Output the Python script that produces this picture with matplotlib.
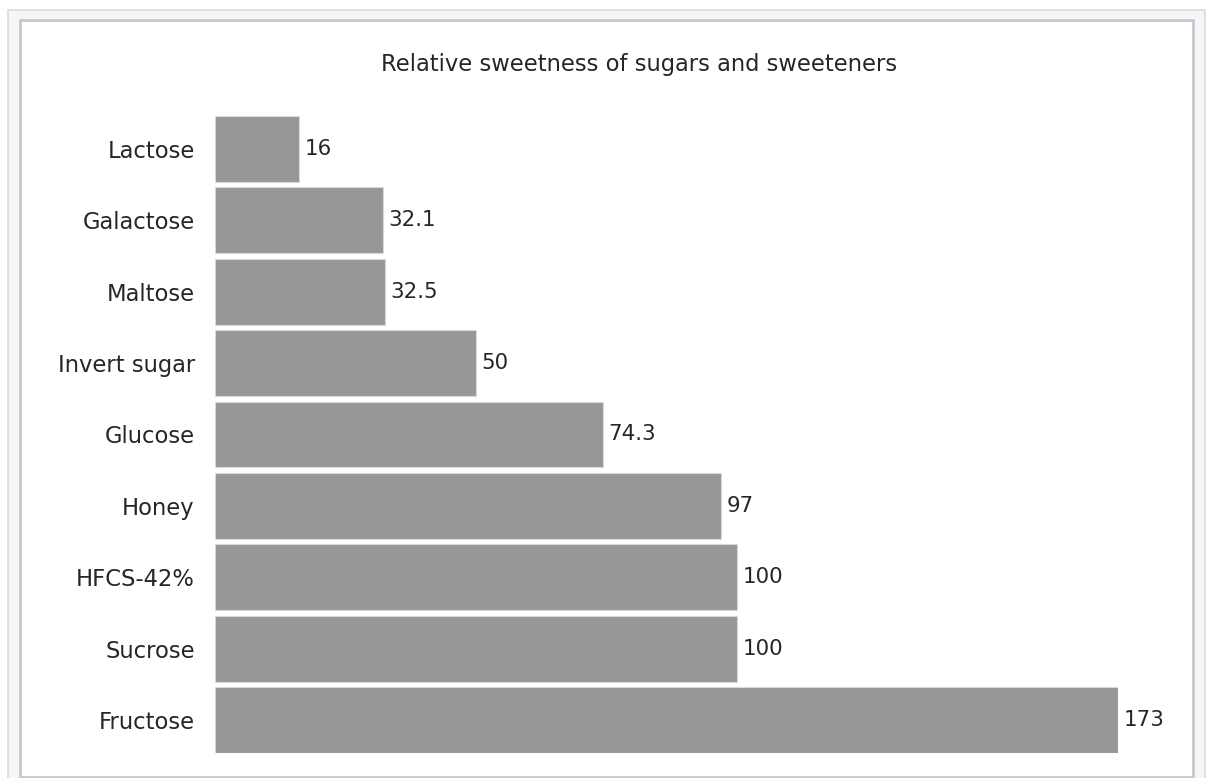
import matplotlib.pyplot as plt
from matplotlib.patches import Rectangle

sugars = ["Lactose", "Galactose", "Maltose", "Invert sugar", "Glucose",
          "Honey", "HFCS-42%", "Sucrose", "Fructose"]
sweetness = [16, 32.1, 32.5, 50, 74.3, 97, 100, 100, 173]
value_labels = ["16", "32.1", "32.5", "50", "74.3", "97", "100", "100", "173"]

W, H = 1209, 778
fig = plt.figure(figsize=(W / 100, H / 100), dpi=100)

# frame around the picture
fig.patches.append(Rectangle((8 / W, -0.05), 1197 / W, (H - 10) / H + 0.05,
                             transform=fig.transFigure, facecolor="#f4f6f8",
                             edgecolor="#d9dcdf", linewidth=1.2, zorder=-2))
fig.patches.append(Rectangle((20 / W, 1 / H), 1173 / W, (H - 21) / H,
                             transform=fig.transFigure, facecolor="white",
                             edgecolor="#c5c9cd", linewidth=2, zorder=-1))

ax = fig.add_axes([215 / W, 25 / H, (1118 - 215) / W, (753 - 116) / H])
ax.set_zorder(2)
ax.patch.set_alpha(0)

ypos = list(range(len(sugars)))
bars = ax.barh(ypos, sweetness, height=0.92, color="#979797",
               edgecolor="#d8d8d8", linewidth=0.8)
ax.set_xlim(0, 173)
ax.set_ylim(len(sugars) - 1 + 0.46, -0.46)
ax.set_yticks(ypos)
ax.set_yticklabels(sugars, fontsize=16.3, color="#262626")
ax.tick_params(axis="y", length=0, pad=14.5)
ax.set_xticks([])
for s in ax.spines.values():
    s.set_visible(False)

for b, lab in zip(bars, value_labels):
    ax.text(b.get_width() + 1.1, b.get_y() + b.get_height() / 2, lab,
            va="center", ha="left", fontsize=15.4, color="#262626", clip_on=False)

fig.text(639 / W, 1 - 64 / H, "Relative sweetness of sugars and sweeteners",
         ha="center", va="center", fontsize=16.3, color="#262626", zorder=3)

fig.savefig("out.png", dpi=100)
